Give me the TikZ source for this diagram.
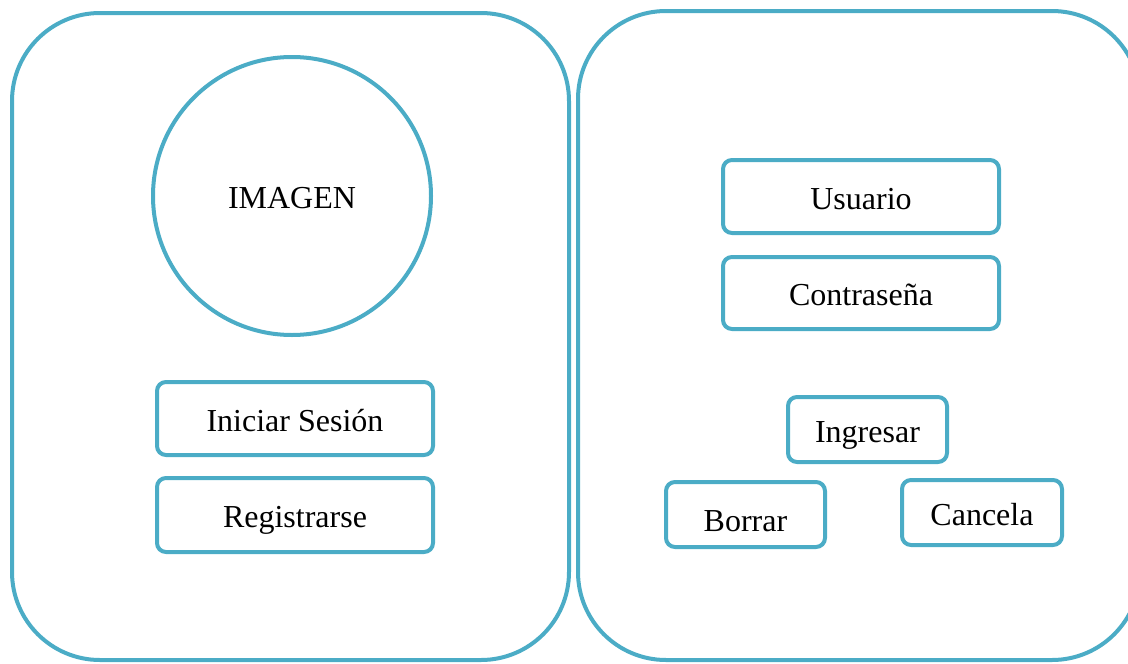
\documentclass[tikz,border=0pt]{standalone}
\usepackage{fontspec}
\setmainfont{Liberation Serif}
\definecolor{frame}{HTML}{4BACC6}
\begin{document}
\begin{tikzpicture}[x=1pt,y=-1pt,
  panel/.style={draw=frame,line width=4pt,rounded corners=88pt,fill=none},
  btn/.style={draw=frame,line width=4pt,rounded corners=9pt,inner sep=0pt,
    text height=25pt,text depth=0pt,
    font=\fontsize{32}{36}\selectfont},
  pic/.style={draw=frame,line width=4pt,circle,inner sep=0pt,
    text height=25pt,text depth=0pt,
    font=\fontsize{32}{36}\selectfont}]
  \useasboundingbox (0,0) rectangle (1128,664);
  \clip (0,0) rectangle (1128,664);
  % the two screens
  \draw[panel] (12,13) rectangle (569,660);
  \draw[panel] (578,11) rectangle (1140,660);
  % start screen
  \node[pic,minimum size=278pt] (imagen) at (292,196) {IMAGEN};
  \node[btn,minimum width=276pt,minimum height=73pt] (iniciar) at (295,418.5) {Iniciar Sesión};
  \node[btn,minimum width=276pt,minimum height=74pt] (registro) at (295,515) {Registrarse};
  % login screen
  \node[btn,minimum width=276pt,minimum height=73pt] (usuario) at (861,196.5) {Usuario};
  \node[btn,minimum width=276pt,minimum height=72pt] (clave) at (861,293) {Contraseña};
  \node[btn,minimum width=159pt,minimum height=65pt] (ingresar) at (867.5,429.5) {Ingresar};
  \node[btn,minimum width=159pt,minimum height=65pt] (borrar) at (745.5,514.5) {\raisebox{-4pt}{Borrar}};
  \node[btn,minimum width=160pt,minimum height=65pt] (cancela) at (982,512.5) {Cancela};
\end{tikzpicture}
\end{document}
